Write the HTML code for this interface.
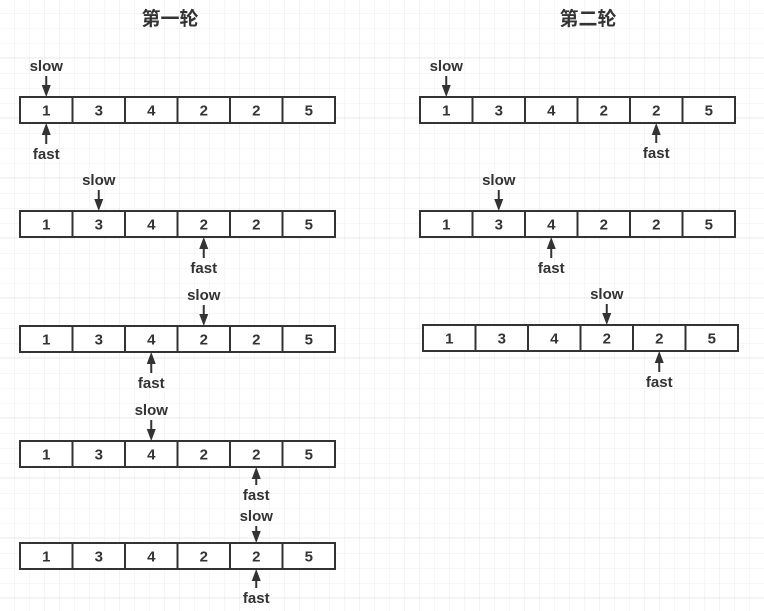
<!DOCTYPE html>
<html><head><meta charset="utf-8"><style>
html,body{margin:0;padding:0;background:#fff;}
svg{display:block;font-family:"Liberation Sans","Noto Sans CJK SC",sans-serif;}
</style></head><body>
<svg id="c" width="764" height="611" viewBox="0 0 764 611">
<defs>
<pattern id="g" x="14" y="13" width="15" height="15" patternUnits="userSpaceOnUse"><path d="M0 0H15M0 0V15" stroke="#eeeeee" stroke-width="1" fill="none"/></pattern>
<pattern id="G" x="59" y="57" width="60" height="60" patternUnits="userSpaceOnUse"><path d="M0 0H60M0 0V60" stroke="#e4e4e4" stroke-width="1" fill="none"/></pattern>
</defs>
<rect width="764" height="611" fill="url(#g)"/>
<rect width="764" height="611" fill="url(#G)"/>
<text x="170" y="25" font-size="19" font-weight="bold" fill="#333" text-anchor="middle">第一轮</text>
<text x="588" y="25" font-size="19" font-weight="bold" fill="#333" text-anchor="middle">第二轮</text>
<g id="rows"></g>
</svg>
<script>
const values = [1,3,4,2,2,5];
const rowX = [20,20,20,20,20,420,420,423];
const rowY = [97,211,326,441,543,97,211,325];
const slowIdx = [0,1,3,2,4,0,1,3];
const fastIdx = [0,3,2,4,4,4,2,4];
const slowGap = [31,31,31,31,27,31,31,31];
const fastGap = [31,31,31,28,29,30,31,31];
const cellW = 52.5, cellH = 26;
const NS = "http://www.w3.org/2000/svg";
const root = document.getElementById('rows');
function mk(tag, attrs){const e=document.createElementNS(NS,tag);for(const k in attrs)e.setAttribute(k,attrs[k]);return e;}
function arrow(cx, y1, y2, label, ly, name){
  const g=mk('g',{});
  
  
  const dir = y2>y1?1:-1;
  g.appendChild(mk('line',{x1:cx,y1:y1,x2:cx,y2:y2-dir*10,stroke:'#333','stroke-width':2}));
  g.appendChild(mk('path',{d:`M${cx-4.5} ${y2-dir*12}L${cx+4.5} ${y2-dir*12}L${cx} ${y2}Z`,fill:'#333'}));
  const t=mk('text',{x:cx,y:ly+5,'font-size':15,'font-weight':'bold',fill:'#333','text-anchor':'middle'});
  t.textContent=label;g.appendChild(t);
  root.appendChild(g);
}
for(let r=0;r<rowY.length;r++){
  const g=mk('g',{});
  
  
  const x0=rowX[r], y0=rowY[r];
  values.forEach((v,i)=>{
    const c=mk('rect',{x:x0+i*cellW,y:y0,width:cellW,height:cellH,fill:'#fff',stroke:'#333','stroke-width':2});
    
    
    g.appendChild(c);
    const t=mk('text',{x:x0+i*cellW+cellW/2,y:y0+cellH/2+5.5,'font-size':15,'font-weight':'bold',fill:'#333','text-anchor':'middle'});
    t.textContent=v;g.appendChild(t);
  });
  root.appendChild(g);
  const sx=x0+slowIdx[r]*cellW+cellW/2, fx=x0+fastIdx[r]*cellW+cellW/2;
  arrow(sx, y0-slowGap[r]+10, y0, 'slow', y0-slowGap[r], 'slow-pointer');
  arrow(fx, y0+cellH+fastGap[r]-10, y0+cellH, 'fast', y0+cellH+fastGap[r], 'fast-pointer');
}
</script>
</body></html>
